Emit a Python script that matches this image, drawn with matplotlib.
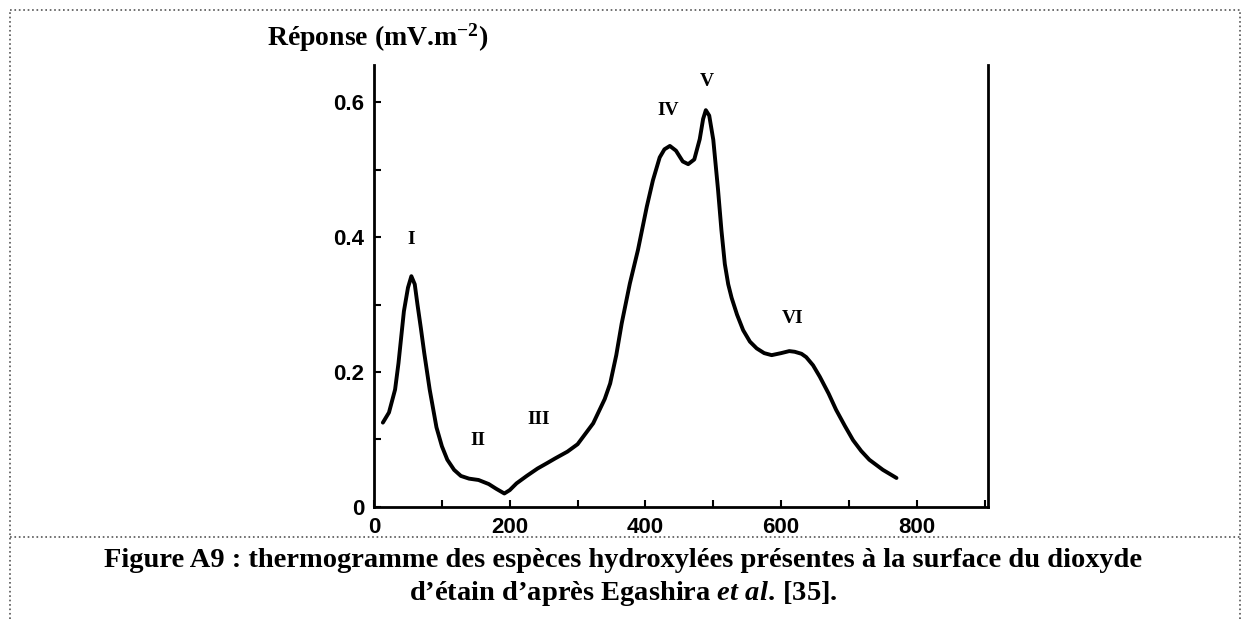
import matplotlib
matplotlib.use("Agg")
import matplotlib.pyplot as plt
from matplotlib.lines import Line2D
from matplotlib.ticker import MultipleLocator

# Thermogram
temperature = [13, 22, 31, 36, 44, 50, 55, 60, 64, 69, 74, 82, 92, 100, 108, 118, 128,
               140, 154, 169, 180, 192, 200, 210, 225, 241, 255, 267, 285, 300, 323,
               340, 348, 357, 365, 377, 389, 402, 411, 421, 428, 436, 445, 455, 463,
               472, 480, 485, 489, 494, 500, 507, 512, 517, 522, 527, 535, 544, 554,
               564, 575, 586, 600, 612, 620, 630, 637, 647, 657, 670, 681, 694, 706,
               718, 730, 750, 770]
response = [0.125, 0.14, 0.174, 0.213, 0.29, 0.325, 0.342, 0.33, 0.30, 0.265, 0.228,
            0.174, 0.118, 0.09, 0.07, 0.055, 0.046, 0.042, 0.040, 0.034, 0.027, 0.020,
            0.025, 0.035, 0.046, 0.057, 0.065, 0.072, 0.082, 0.093, 0.124, 0.16, 0.183,
            0.225, 0.272, 0.331, 0.381, 0.445, 0.484, 0.518, 0.53, 0.535, 0.528, 0.512,
            0.508, 0.515, 0.545, 0.575, 0.588, 0.58, 0.544, 0.47, 0.41, 0.36, 0.33,
            0.31, 0.285, 0.262, 0.245, 0.235, 0.228, 0.225, 0.228, 0.231, 0.230, 0.227,
            0.222, 0.21, 0.193, 0.168, 0.144, 0.12, 0.099, 0.083, 0.070, 0.055, 0.043]

peak_names = ['I', 'II', 'III', 'IV', 'V', 'VI']
peak_x = [55, 153, 243, 433, 490, 617]
peak_y = [0.396, 0.099, 0.129, 0.588, 0.63, 0.28]

xticks = [0, 200, 400, 600, 800]
xtick_labels = ['0', '200', '400', '600', '800']
yticks = [0, 0.2, 0.4, 0.6]
ytick_labels = ['0', '0.2', '0.4', '0.6']

plt.rcParams['mathtext.fontset'] = 'custom'
plt.rcParams['mathtext.rm'] = 'Liberation Serif:bold'
plt.rcParams['mathtext.it'] = 'Liberation Serif:italic:bold'
plt.rcParams['mathtext.bf'] = 'Liberation Serif:bold'

fig = plt.figure(figsize=(12.46, 6.21), dpi=100)
ax = fig.add_axes([0.3002, 0.1836, 0.4928, 0.7118])

ax.plot(temperature, response, color='black', linewidth=2.8, solid_capstyle='round')

ax.set_xlim(0, 905)
ax.set_ylim(0, 0.655)
ax.spines['top'].set_visible(False)
for side in ['left', 'bottom', 'right']:
    ax.spines[side].set_linewidth(2.0)

ax.set_xticks(xticks)
ax.set_xticklabels(xtick_labels)
ax.set_yticks(yticks)
ax.set_yticklabels(ytick_labels)
ax.xaxis.set_minor_locator(MultipleLocator(100))
ax.yaxis.set_minor_locator(MultipleLocator(0.1))
ax.tick_params(axis='both', which='both', direction='in', width=1.5, length=5)
ax.tick_params(axis='both', which='major', pad=7)
ax.tick_params(axis='y', which='both', right=False)
for lab in ax.get_xticklabels() + ax.get_yticklabels():
    lab.set_fontfamily('Liberation Sans')
    lab.set_fontweight('bold')
    lab.set_fontsize(16)

for name, px, py in zip(peak_names, peak_x, peak_y):
    ax.text(px, py, name, ha='center', va='center', fontsize=14, fontweight='bold',
            family='Liberation Serif')

fig.text(0.2143, 0.94, 'Réponse (mV.m$^{\\mathrm{-2}}$)', ha='left', va='center',
         fontsize=20, fontweight='bold', family='Liberation Serif')

# caption
fig.text(0.5, 0.097, 'Figure A9 : thermogramme des espèces hydroxylées présentes à la surface du dioxyde',
         ha='center', va='center', fontsize=20.5, fontweight='bold', family='Liberation Serif')
fig.text(0.5, 0.045, 'd’étain d’après Egashira $et\\ al.\\,$[35].',
         ha='center', va='center', fontsize=20.5, fontweight='bold', family='Liberation Serif')

# dotted frame and separator
border = dict(color='#555555', linestyle=':', linewidth=1.2)
x0, x1 = 10 / 1246, 1240 / 1246
y0, y1 = 1 - 619 / 621, 1 - 10 / 621
ysep = 1 - 537 / 621
fig.add_artist(Line2D([x0, x1], [y1, y1], transform=fig.transFigure, **border))
fig.add_artist(Line2D([x0, x0], [y0, y1], transform=fig.transFigure, **border))
fig.add_artist(Line2D([x1, x1], [y0, y1], transform=fig.transFigure, **border))
fig.add_artist(Line2D([x0, x1], [ysep, ysep], transform=fig.transFigure, **border))

fig.savefig('out.png', dpi=100)
